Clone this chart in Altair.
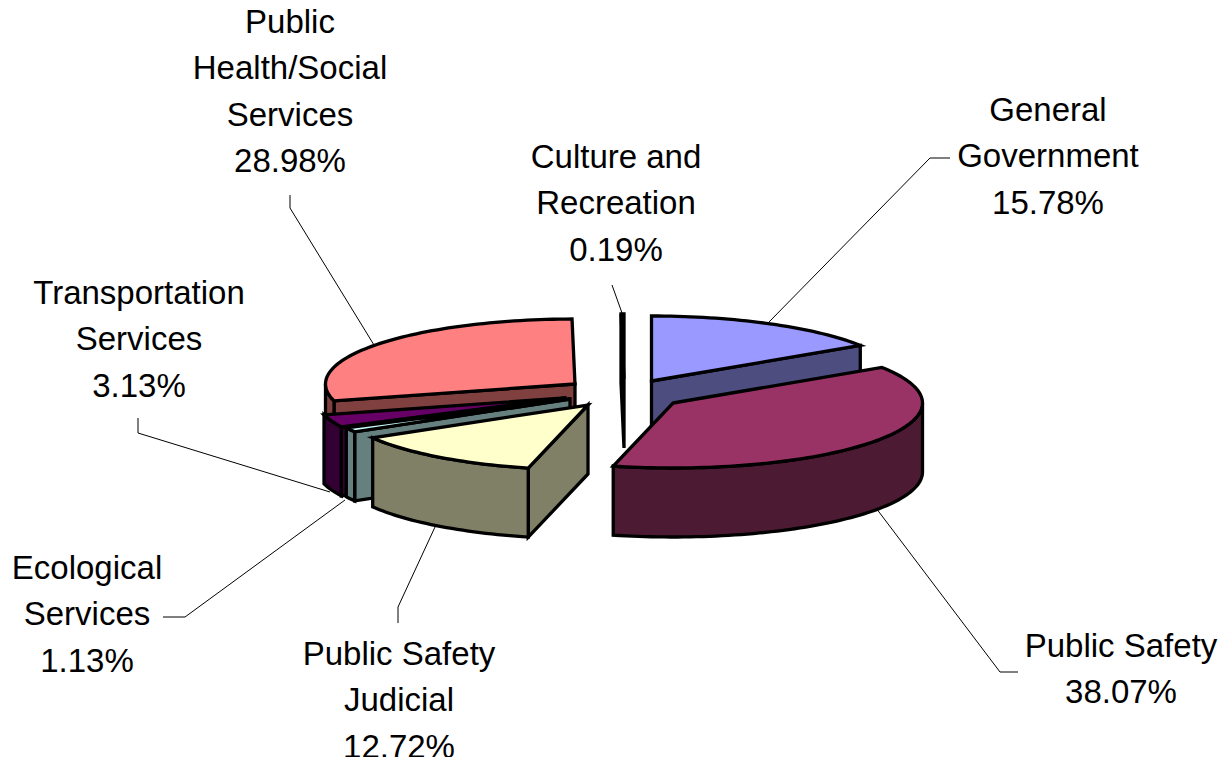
import math
import altair as alt

categories = ["General Government", "Public Safety", "Public Safety Judicial", "Ecological Services",
              "Transportation Services", "Public Health/Social Services", "Culture and Recreation"]
shares = [15.78, 38.07, 12.72, 1.13, 3.13, 28.98, 0.19]
top_colors = ["#9999FF", "#993366", "#FFFFCC", "#CCFFFF", "#660066", "#FF8080", "#0066CC"]
side_colors = ["#4D4D80", "#4D1A33", "#808066", "#668080", "#330033", "#804040", "#003366"]
# each slice's exploded centre, in picture pixels
centers = [(651.5, 381), (673, 403), (588, 405), (570, 399), (565, 398), (575, 384), (624, 379)]
draw_order = [0, 5, 4, 3, 2, 6, 1]

RX, RY, DEPTH = 249.5, 65.0, 69.0

label_lines = [
    (["General", "Government"], 1048, 111),
    (["Public Safety"], 1121, 647),
    (["Public Safety", "Judicial"], 399, 655),
    (["Ecological", "Services"], 87, 569),
    (["Transportation", "Services"], 139, 294),
    (["Public", "Health/Social", "Services"], 290, 23),
    (["Culture and", "Recreation"], 616, 158),
]
leaders = [
    [(769, 322), (930, 158), (950, 158)],
    [(876, 508), (1000, 672), (1018, 672)],
    [(435, 527), (398, 607), (398, 623)],
    [(345, 500), (185, 617), (163, 617)],
    [(330, 492), (138, 433), (138, 418)],
    [(374, 345), (290, 208), (290, 195)],
    [(622, 313), (612, 285)],
]


def pt(c, deg, drop=0.0):
    a = math.radians(deg)
    return [c[0] + RX * math.sin(a), c[1] - RY * math.cos(a) + drop]


def arc(c, a0, a1, drop=0.0):
    n = max(2, int(abs(a1 - a0) / 1.5) + 2)
    return [pt(c, a0 + (a1 - a0) * i / (n - 1), drop) for i in range(n)]


def poly(points, fill):
    ring = list(points) + [points[0]]
    return {"type": "Feature", "properties": {"fill": fill},
            "geometry": {"type": "Polygon", "coordinates": [ring]}}


def face_visible(c, deg, mid):
    p, m = pt(c, deg), pt(c, mid)
    dx, dy = p[0] - c[0], p[1] - c[1]
    if abs(dx) < 1e-6 or abs(deg % 360) < 1e-6:
        return False
    return (m[1] - c[1]) < dy / dx * (m[0] - c[0])


bounds = []
acc = 0.0
for s in shares:
    bounds.append((acc * 3.6, (acc + s) * 3.6))
    acc += s

features = []
for i in draw_order:
    c = centers[i]
    a0, a1 = bounds[i]
    mid = (a0 + a1) / 2
    side, top = side_colors[i], top_colors[i]
    for deg in (a0, a1):
        if face_visible(c, deg, mid):
            p = pt(c, deg)
            features.append(poly([[c[0], c[1]], p, [p[0], p[1] + DEPTH], [c[0], c[1] + DEPTH]], side))
    w0, w1 = max(a0, 90), min(a1, 270)
    if w1 > w0:
        features.append(poly(arc(c, w0, w1) + arc(c, w1, w0, DEPTH), side))
    features.append(poly([[c[0], c[1]]] + arc(c, a0, a1), top))

leader_features = [{"type": "Feature", "properties": {},
                    "geometry": {"type": "LineString", "coordinates": [list(p) for p in l]}}
                   for l in leaders]

LINE = 46.3
text_rows = []
for (lines, x, y), share in zip(label_lines, shares):
    for k, t in enumerate(lines + [f"{share:.2f}%"]):
        text_rows.append({"t": t, "lon": x, "lat": y + k * LINE})

proj = dict(type="identity", scale=1, translate=[-8, -8])

leader_layer = alt.Chart(alt.Data(values=leader_features)).mark_geoshape(
    filled=False, stroke="#000000", strokeWidth=1).project(**proj)
pie_layer = alt.Chart(alt.Data(values=features)).mark_geoshape(
    stroke="#000000", strokeWidth=3.3, strokeJoin="miter").encode(
    fill=alt.Fill("properties.fill:N", scale=None, legend=None)).project(**proj)
text_layer = alt.Chart(alt.Data(values=text_rows)).mark_text(
    font="Liberation Sans", fontSize=33, color="#000000", align="center", baseline="middle").encode(
    longitude="lon:Q", latitude="lat:Q", text="t:N").project(**proj)

chart = alt.layer(leader_layer, pie_layer, text_layer).properties(
    width=1210, height=749, padding=0, background="#FFFFFF"
).configure_view(stroke=None)

chart.save("out.html", embed_options={"renderer": "svg", "actions": False})
